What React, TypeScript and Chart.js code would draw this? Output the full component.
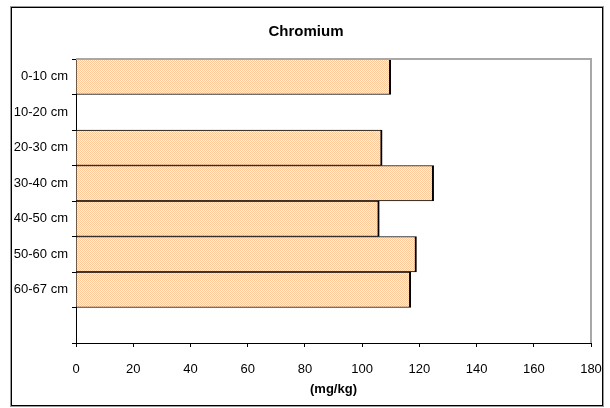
import React, { useEffect, useRef } from "react";
import { Chart, registerables } from "chart.js";

Chart.register(...registerables);

// Depth intervals; the trailing empty slot leaves a gap above the value axis.
const depthLabels = ["0-10 cm", "10-20 cm", "20-30 cm", "30-40 cm", "40-50 cm", "50-60 cm", "60-67 cm", ""];
// Chromium concentration per interval (mg/kg); 10-20 cm has no sample.
const chromiumValues: (number | null)[] = [110, null, 107, 125, 106, 119, 117, null];
const xTickValues = [0, 20, 40, 60, 80, 100, 120, 140, 160, 180];

const chartTitle = "Chromium";
const xAxisTitle = "(mg/kg)";

function makeCheckerPattern(ctx: CanvasRenderingContext2D): CanvasPattern | string {
  const tile = document.createElement("canvas");
  tile.width = 2;
  tile.height = 2;
  const t = tile.getContext("2d");
  if (!t) return "#FDDCBD";
  t.fillStyle = "#FFF1E4";
  t.fillRect(0, 0, 2, 2);
  t.fillStyle = "#FFC898";
  t.fillRect(0, 0, 1, 1);
  t.fillRect(1, 1, 1, 1);
  return ctx.createPattern(tile, "repeat") || "#FDDCBD";
}

// Draws the outer chart border and the light grey top/right plot frame.
const framePlugin = {
  id: "frame",
  beforeDraw(chart: any) {
    const { ctx } = chart;
    ctx.save();
    ctx.fillStyle = "#ffffff";
    ctx.fillRect(0, 0, chart.width, chart.height);
    ctx.strokeStyle = "#9a9a9a";
    ctx.lineWidth = 1;
    ctx.strokeRect(10.5, 6.5, 593, 400);
    ctx.strokeStyle = "#000000";
    ctx.strokeRect(11.5, 7.5, 591, 398);
    ctx.restore();
  },
  afterDatasetsDraw(chart: any) {
    const { ctx, chartArea } = chart;
    ctx.save();
    ctx.strokeStyle = "#a8a8a8";
    ctx.lineWidth = 2;
    ctx.beginPath();
    ctx.moveTo(chartArea.left, chartArea.top);
    ctx.lineTo(chartArea.right, chartArea.top);
    ctx.lineTo(chartArea.right, chartArea.bottom);
    ctx.stroke();
    ctx.restore();
  },
};

export default function App() {
  const canvasRef = useRef<HTMLCanvasElement | null>(null);

  useEffect(() => {
    document.body.style.margin = "0";
    const canvas = canvasRef.current;
    if (!canvas) return;
    const ctx = canvas.getContext("2d");
    if (!ctx) return;

    Chart.defaults.font.family = "'Liberation Sans', Arial, sans-serif";
    Chart.defaults.color = "#000";

    const chart = new Chart(ctx, {
      type: "bar",
      data: {
        labels: depthLabels,
        datasets: [
          {
            label: chartTitle,
            data: chromiumValues,
            backgroundColor: makeCheckerPattern(ctx),
            borderColor: "#000",
            borderWidth: { top: 1, right: 2, bottom: 1, left: 0 },
            borderSkipped: false,
            barPercentage: 1,
            categoryPercentage: 1,
          },
        ],
      },
      options: {
        indexAxis: "y",
        animation: false,
        responsive: false,
        devicePixelRatio: 1,
        layout: { padding: { left: 13, right: 11, top: 8, bottom: 11 } },
        plugins: {
          legend: { display: false },
          tooltip: { enabled: false },
          title: {
            display: true,
            text: chartTitle,
            font: { size: 15, weight: "bold" },
            color: "#000",
            padding: { top: 15, bottom: 18 },
          },
        },
        scales: {
          x: {
            type: "linear",
            min: 0,
            max: 180,
            afterBuildTicks: (scale: any) => {
              scale.ticks = xTickValues.map((v) => ({ value: v }));
            },
            afterFit: (scale: any) => {
              scale.height = 54;
              scale.paddingRight = 19;
            },
            grid: {
              drawOnChartArea: false,
              drawTicks: true,
              tickLength: 4,
              color: "#000",
            },
            border: { display: true, color: "#000", width: 1 },
            ticks: {
              font: { size: 13 },
              color: "#000",
              padding: 15,
              maxRotation: 0,
            },
            title: {
              display: true,
              text: xAxisTitle,
              font: { size: 13, weight: "bold" },
              color: "#000",
              padding: { top: 0, bottom: 0 },
            },
          },
          y: {
            type: "category",
            offset: true,
            afterFit: (scale: any) => {
              scale.width = 63;
            },
            grid: {
              offset: true,
              drawOnChartArea: false,
              drawTicks: true,
              tickLength: 4,
              color: "#000",
            },
            border: { display: true, color: "#000", width: 1 },
            ticks: {
              font: { size: 13 },
              color: "#000",
              padding: 4,
              autoSkip: false,
            },
          },
        },
      },
      plugins: [framePlugin],
    } as any);

    return () => chart.destroy();
  }, []);

  return (
    <div style={{ width: 610, height: 408 }}>
      <canvas ref={canvasRef} width={610} height={408} style={{ display: "block" }} />
    </div>
  );
}
